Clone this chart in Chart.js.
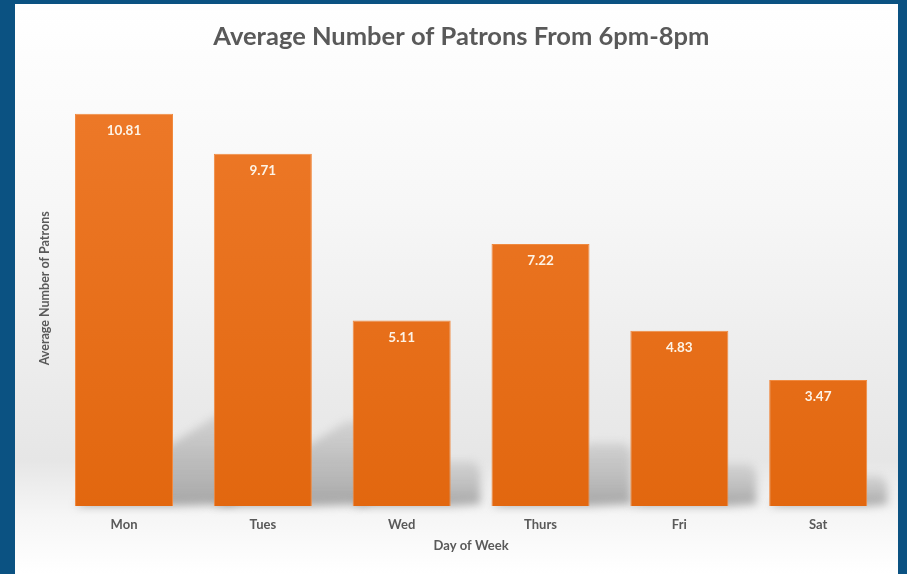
<!DOCTYPE html>
<html>
<head>
<meta charset="utf-8">
<script src="https://cdn.jsdelivr.net/npm/chart.js@4"></script>
<style>
  html, body { margin: 0; padding: 0; background: #0b5282; }
  #wrap { position: absolute; left: 15px; top: 4px; width: 883px; height: 570px; }
</style>
</head>
<body>
<div id="wrap"><canvas id="c"></canvas></div>
<script>
// data
const days = ["Mon", "Tues", "Wed", "Thurs", "Fri", "Sat"];
const patrons = [10.81, 9.71, 5.11, 7.22, 4.83, 3.47];
const yMax = 12;

const grey = "#595959";
const fontFam = "Lato, 'Open Sans', sans-serif";

// backdrop: soft grey band behind the lower part of the bars
const backdrop = {
    id: "backdrop",
    beforeDraw(chart) {
        const {ctx, width, height} = chart;
        const g = ctx.createLinearGradient(0, 0, 0, height);
        g.addColorStop(0, "#ffffff");
        g.addColorStop(0.35, "#f7f7f7");
        g.addColorStop(0.8, "#e6e6e6");
        g.addColorStop(0.9, "#f6f6f6");
        g.addColorStop(1, "#ffffff");
        ctx.save();
        ctx.fillStyle = g;
        ctx.fillRect(0, 0, width, height);
        ctx.restore();
    }
};

// slanted shadows cast to the right of each bar
const barShadows = {
    id: "barShadows",
    beforeDatasetsDraw(chart) {
        const {ctx} = chart;
        const meta = chart.getDatasetMeta(0);
        ctx.save();
        ctx.filter = "blur(4px)";
        meta.data.forEach(bar => {
            const {x, y, base, width} = bar.getProps(["x", "y", "base", "width"], true);
            const left = x - width / 2, right = x + width / 2;
            const h = base - y;
            const sh = h * 0.24;
            const ext = h * 0.16;
            const g = ctx.createLinearGradient(0, base, 0, base - sh);
            g.addColorStop(0, "rgba(140,140,140,0.75)");
            g.addColorStop(1, "rgba(170,170,170,0.35)");
            ctx.fillStyle = g;
            ctx.beginPath();
            ctx.moveTo(left, base);
            ctx.lineTo(left + sh / 0.64, base - sh);
            ctx.lineTo(right + ext - 6, base - sh);
            ctx.lineTo(right + ext, base - sh + 8);
            ctx.lineTo(right + ext, base - 2);
            ctx.lineTo(right, base);
            ctx.closePath();
            ctx.fill();
        });
        ctx.restore();
    }
};

// value labels inside the top of each bar
const valueLabels = {
    id: "valueLabels",
    afterDatasetsDraw(chart) {
        const {ctx} = chart;
        const meta = chart.getDatasetMeta(0);
        ctx.save();
        ctx.font = "bold 13.5px " + fontFam;
        ctx.fillStyle = "#fdf3e6";
        ctx.textAlign = "center";
        ctx.textBaseline = "middle";
        meta.data.forEach((bar, i) => {
            ctx.fillText(patrons[i].toFixed(2), bar.x, bar.y + 17);
        });
        ctx.restore();
    }
};

const barFill = (context) => {
    const area = context.chart.chartArea;
    if (!area) return "#e8721f";
    const g = context.chart.ctx.createLinearGradient(0, area.top, 0, area.bottom);
    g.addColorStop(0, "#ee7a2a");
    g.addColorStop(1, "#e2670f");
    return g;
};

new Chart(document.getElementById("c"), {
    type: "bar",
    data: {
        labels: days,
        datasets: [{
            data: patrons,
            backgroundColor: barFill,
            borderColor: "#f08a40",
            borderWidth: 1,
            barPercentage: 0.706,
            categoryPercentage: 1
        }]
    },
    options: {
        responsive: true,
        maintainAspectRatio: false,
        animation: false,
        layout: { padding: { left: 20, right: 10.4, top: 0, bottom: 0 } },
        plugins: {
            legend: { display: false },
            tooltip: { enabled: false },
            title: {
                display: true,
                text: "Average Number of Patrons From 6pm-8pm",
                color: grey,
                font: { family: fontFam, size: 25.5, weight: "bold" },
                padding: { top: 17, bottom: 19 }
            }
        },
        scales: {
            x: {
                grid: { display: false, drawTicks: false },
                border: { display: false },
                ticks: { color: grey, padding: 11, font: { family: fontFam, size: 13, weight: "bold" } },
                title: {
                    display: true,
                    text: "Day of Week",
                    color: grey,
                    font: { family: fontFam, size: 13, weight: "bold" },
                    padding: { top: 4, bottom: 20.2 }
                },
                afterFit(scale) { scale.height = 68; }
            },
            y: {
                min: 0,
                max: yMax,
                grid: { display: false, drawTicks: false },
                border: { display: false },
                ticks: { display: false },
                title: {
                    display: true,
                    text: "Average Number of Patrons",
                    color: grey,
                    font: { family: fontFam, size: 12.5, weight: "bold" },
                    padding: { top: 2.5, bottom: 0 }
                },
                afterFit(scale) { scale.width = 19.6; }
            }
        }
    },
    plugins: [backdrop, barShadows, valueLabels]
});
</script>
</body>
</html>
